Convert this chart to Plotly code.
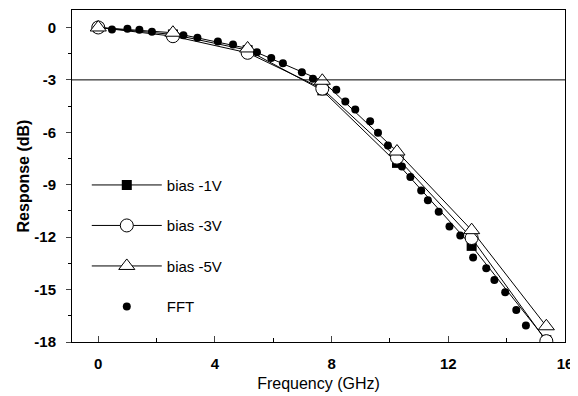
import plotly.graph_objects as go

freq_bias = [0, 2.56, 5.12, 7.68, 10.24, 12.8, 15.36]
bias_1v = [0, -0.4, -1.3, -3.6, -7.75, -12.5, -17.9]
bias_3v = [0, -0.5, -1.45, -3.5, -7.45, -12.05, -17.95]
bias_5v = [0, -0.3, -1.2, -3.05, -7.1, -11.6, -17.1]

fft_freq = [0.47, 1.00, 1.41, 1.84, 2.92, 3.40, 4.10, 4.62, 5.44, 5.93, 6.33, 6.98,
            7.36, 8.16, 8.47, 8.81, 9.32, 9.59, 9.93, 10.41, 10.70, 11.07, 11.30,
            11.67, 12.04, 12.41, 12.85, 13.30, 13.58, 13.95, 14.33, 14.66]
fft_resp = [-0.11, -0.07, -0.13, -0.25, -0.44, -0.59, -0.80, -0.97, -1.42, -1.74, -2.05, -2.56,
            -2.94, -3.56, -4.23, -4.70, -5.37, -6.02, -6.75, -7.95, -8.56, -9.33, -9.89,
            -10.55, -11.39, -11.91, -13.17, -13.78, -14.45, -15.15, -16.17, -17.05]

x_ticks = [0, 4, 8, 12, 16]
y_ticks = [0, -3, -6, -9, -12, -15, -18]
ref_level = -3

FONT = "Liberation Sans, Arial, sans-serif"

fig = go.Figure()
fig.add_trace(go.Scatter(x=freq_bias, y=bias_1v, name="bias -1V", mode="lines+markers",
                         line=dict(color="black", width=1),
                         marker=dict(symbol="square", size=10, color="black"),
                         legendgroup="a"))
fig.add_trace(go.Scatter(x=freq_bias, y=bias_3v, name="bias -3V", mode="lines+markers",
                         line=dict(color="black", width=1),
                         marker=dict(symbol="circle", size=13, color="white",
                                     line=dict(color="black", width=1)),
                         legendgroup="b"))
fig.add_trace(go.Scatter(x=freq_bias, y=bias_5v, name="bias -5V", mode="lines+markers",
                         line=dict(color="black", width=1),
                         marker=dict(symbol="triangle-up", size=14, color="white",
                                     line=dict(color="black", width=1)),
                         legendgroup="c"))
fig.add_trace(go.Scatter(x=fft_freq, y=fft_resp, name="FFT", mode="markers",
                         marker=dict(symbol="circle", size=8, color="black"),
                         legendgroup="d"))

fig.add_shape(type="line", xref="paper", x0=0, x1=1, yref="y", y0=ref_level, y1=ref_level,
              line=dict(color="black", width=1))

fig.update_layout(
    width=578, height=396,
    margin=dict(l=64, r=21, t=2, b=62, autoexpand=False),
    plot_bgcolor="white", paper_bgcolor="white",
    font=dict(family=FONT, size=15, color="black"),
    showlegend=True,
    legend=dict(x=0.03, y=0.522, xanchor="left", yanchor="top",
                bgcolor="rgba(0,0,0,0)", font=dict(size=15),
                tracegroupgap=18, itemwidth=70, traceorder="grouped"),
    xaxis=dict(range=[-0.9, 16], tickvals=x_ticks, ticks="inside", ticklen=6,
               showline=True, linecolor="black", linewidth=1, mirror=True,
               showgrid=False, zeroline=False, automargin=False, ticklabelstandoff=8,
               tickfont=dict(family=FONT, size=15, weight="bold"),
               minor=dict(tickvals=[2, 6, 10, 14], ticks="inside", ticklen=4, tickcolor="black"),
               title=dict(text="Frequency (GHz)", font=dict(size=16), standoff=6)),
    yaxis=dict(range=[-18, 1], tickvals=y_ticks, ticktext=[str(v) for v in y_ticks],
               ticks="outside", ticklen=5,
               showline=True, linecolor="black", linewidth=1, mirror=True,
               showgrid=False, zeroline=False, automargin=False, ticklabelstandoff=7,
               tickfont=dict(family=FONT, size=15, weight="bold"),
               minor=dict(tickvals=[-1.5, -4.5, -7.5, -10.5, -13.5, -16.5], ticks="outside",
                          ticklen=3, tickcolor="black"),
               title=dict(text="Response (dB)", font=dict(size=16, weight="bold"), standoff=0)),
)

fig.write_html("out.html")
